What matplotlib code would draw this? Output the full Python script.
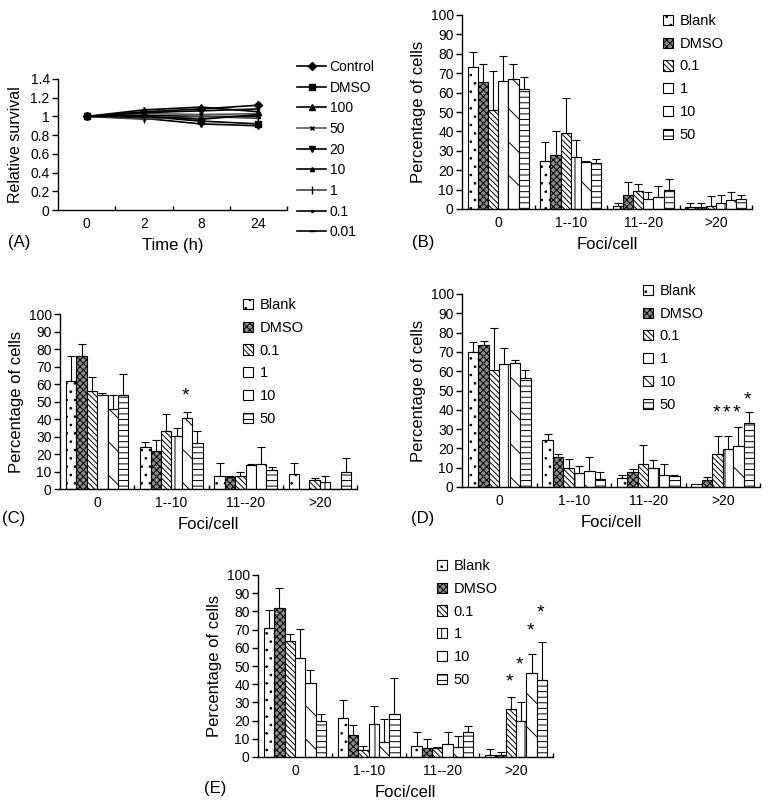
import numpy as np
import matplotlib.pyplot as plt

plt.rcParams['font.family'] = ['Liberation Sans', 'DejaVu Sans']
plt.rcParams['hatch.linewidth'] = 0.7

W, H = 769, 802

# ---- panel A data: relative survival ----
times = ['0', '2', '8', '24']
surv_labels = ['Control', 'DMSO', '100', '50', '20', '10', '1', '0.1', '0.01']
surv_control = [1.0, 1.05, 1.08, 1.12]
surv_dmso = [1.0, 1.0, 0.95, 0.92]
surv_100 = [1.0, 1.07, 1.10, 1.05]
surv_50 = [1.0, 1.03, 1.02, 1.03]
surv_20 = [1.0, 0.98, 0.92, 0.90]
surv_10 = [1.0, 1.01, 1.00, 1.00]
surv_1 = [1.0, 0.97, 1.00, 0.98]
surv_01 = [1.0, 1.04, 1.06, 1.08]
surv_001 = [1.0, 1.00, 0.97, 1.02]

# ---- panels B-E data: foci distribution ----
foci_cats = ['0', '1--10', '11--20', '>20']
groups = ['Blank', 'DMSO', '0.1', '1', '10', '50']

b_mean = [[73, 24.5, 1.5, 1], [65.5, 28, 7, 1], [51, 39, 9.4, 1.5],
          [66, 27, 5, 3], [67, 24, 6, 4.5], [62, 23.7, 10, 5]]
b_sd = [[8, 10, 1.5, 2], [9.5, 12, 7, 2], [20, 18, 3.6, 5],
        [13, 8.7, 4, 4], [7.6, 1, 5.7, 4.5], [6, 2, 5.5, 2]]

c_mean = [[62, 24, 7.6, 8.4], [76, 22, 6.7, 0], [56, 33, 7.6, 5],
          [54, 30.5, 14, 4], [46, 40.5, 14.3, 0], [54, 26.5, 11, 9.5]]
c_sd = [[14, 3, 7, 6.3], [7, 6, 0.5, 0], [8, 10, 2.4, 1.5],
        [1, 4.5, 0.3, 3.5], [8, 3.5, 9.7, 0], [12, 6.5, 1.4, 8.5]]

d_mean = [[70, 24.6, 4.9, 1.4], [73.5, 15.6, 7.8, 3.5], [60.5, 9.9, 12, 17.3],
          [63.5, 7.3, 9.9, 19.6], [64, 8.5, 6.4, 21.3], [56.5, 4.3, 5.7, 33.3]]
d_sd = [[5, 3.1, 1.5, 0], [2, 1.4, 1.7, 1.7], [22, 4.8, 9.7, 9],
        [8.5, 3.4, 4.3, 6.7], [2, 6.8, 5.4, 9.9], [4, 3.5, 0.3, 5.5]]

e_mean = [[70.7, 21.4, 5.8, 1], [82, 11.9, 5, 1.3], [63.8, 4, 5, 26.5],
          [54.3, 18.3, 7, 20], [40.6, 8, 5.5, 46], [20, 23.6, 14, 42.4]]
e_sd = [[10.3, 10, 8.2, 3.6], [11, 5.5, 5, 1.4], [3.7, 1.8, 0.5, 6.5],
        [16.1, 9.7, 6.5, 10], [7.4, 12.8, 5.8, 10.5], [3.6, 19.7, 2.8, 20.6]]

# significance stars: (category index, group index, y)
c_stars = [(1, 4, 53)]
d_stars = [(3, 2, 38.5), (3, 3, 38.5), (3, 4, 38.5), (3, 5, 45)]
e_stars = [(3, 2, 41), (3, 3, 50.6), (3, 4, 69.5), (3, 5, 79.3)]

fills = ['white', '#8a8a8a', 'white', 'white', 'white', 'white']
hatches = ['..', 'xxxxx', '\\' * 6, '|', '\\', '---']


def box(l, t, r, b):
    return [l / W, 1 - b / H, (r - l) / W, (b - t) / H]


def fx(x, y):
    return x / W, 1 - y / H


fig = plt.figure(figsize=(W / 100, H / 100), dpi=100)


def style_axes(ax):
    for s in ['top', 'right']:
        ax.spines[s].set_visible(False)
    ax.spines['left'].set_linewidth(1.0)
    ax.spines['bottom'].set_linewidth(1.0)
    ax.tick_params(axis='y', direction='out', length=4, width=1, labelsize=10, pad=2)
    ax.tick_params(axis='x', which='major', length=0, labelsize=10, pad=5)
    ax.tick_params(axis='x', which='minor', direction='in', length=3, width=1)
    ax.set_xticks([0.5, 1.5, 2.5, 3.5], minor=True)


# ---- panel A ----
axA = fig.add_axes(box(58, 79, 287, 210))
series = [surv_control, surv_dmso, surv_100, surv_50, surv_20,
          surv_10, surv_1, surv_01, surv_001]
markers = ['D', 's', '^', 'x', 'v', '^', '|', '.', '_']
msizes = [4, 4, 5, 3, 4, 3, 6, 3, 4]
colors = ['k', 'k', 'k', '#555555', 'k', 'k', '#444444', 'k', 'k']
xs = np.arange(len(times))
handles = []
for vals, lab, m, ms, c in zip(series, surv_labels, markers, msizes, colors):
    ln, = axA.plot(xs, vals, color=c, lw=1.2, marker=m, ms=ms,
                   mfc='k', mec='k', label=lab)
    handles.append(ln)
axA.set_xlim(-0.5, 3.5)
axA.set_ylim(0, 1.4)
axA.set_yticks(np.arange(0, 1.41, 0.2))
axA.set_yticklabels(['0', '0.2', '0.4', '0.6', '0.8', '1', '1.2', '1.4'])
axA.set_xticks(xs)
axA.set_xticklabels(times)
style_axes(axA)
axA.set_ylabel('Relative survival', fontsize=11.5, labelpad=5)
axA.set_xlabel('Time (h)', fontsize=12, labelpad=5)
axA.legend(handles=handles, loc='upper left', bbox_to_anchor=fx(297, 60),
           bbox_transform=fig.transFigure, frameon=False, fontsize=10,
           handlelength=2.1, handletextpad=0.25, labelspacing=0.48,
           borderpad=0, borderaxespad=0)
fig.text(*fx(19, 243), '(A)', fontsize=12, ha='center', va='center')


def bar_panel(rect, means, sds, stars, leg_xy, label, label_xy):
    ax = fig.add_axes(box(*rect))
    w = 0.14
    x = np.arange(len(foci_cats))
    bars = []
    for k in range(len(groups)):
        pos = x + (k - 2.5) * w
        m = np.array(means[k], dtype=float)
        s = np.array(sds[k], dtype=float)
        bc = ax.bar(pos, m, width=w, color=fills[k], edgecolor='k',
                    linewidth=0.8, hatch=hatches[k], label=groups[k])
        bars.append(bc)
        keep = s > 0
        ax.errorbar(pos[keep], m[keep], yerr=[np.zeros(keep.sum()), s[keep]],
                    fmt='none', ecolor='k', elinewidth=0.8, capsize=3,
                    capthick=0.8)
    for ci, gi, yv in stars:
        ax.text(ci + (gi - 2.5) * w - 0.02, yv, '*', fontsize=14,
                ha='center', va='center')
    ax.set_xlim(-0.5, 3.5)
    ax.set_ylim(0, 100)
    ax.set_yticks(np.arange(0, 101, 10))
    ax.set_xticks(x)
    ax.set_xticklabels(foci_cats)
    style_axes(ax)
    ax.set_ylabel('Percentage of cells', fontsize=12, labelpad=3)
    ax.set_xlabel('Foci/cell', fontsize=12, labelpad=5)
    ax.legend(handles=bars, loc='upper left', bbox_to_anchor=fx(*leg_xy),
              bbox_transform=fig.transFigure, frameon=False, fontsize=10.5,
              handlelength=0.7, handleheight=0.7, handletextpad=0.45,
              labelspacing=0.6, borderpad=0, borderaxespad=0)
    fig.text(*fx(*label_xy), label, fontsize=12, ha='center', va='center')
    return ax


bar_panel((462, 15, 752, 209), b_mean, b_sd, [], (663, 14), '(B)', (423, 243))
bar_panel((60, 314, 357, 489), c_mean, c_sd, c_stars, (243, 298), '(C)', (14, 519))
bar_panel((462, 294, 760, 487), d_mean, d_sd, d_stars, (643, 284), '(D)', (423, 519))
bar_panel((258, 575, 553, 757), e_mean, e_sd, e_stars, (437, 559), '(E)', (215, 789))

fig.savefig('out.png', dpi=100)
